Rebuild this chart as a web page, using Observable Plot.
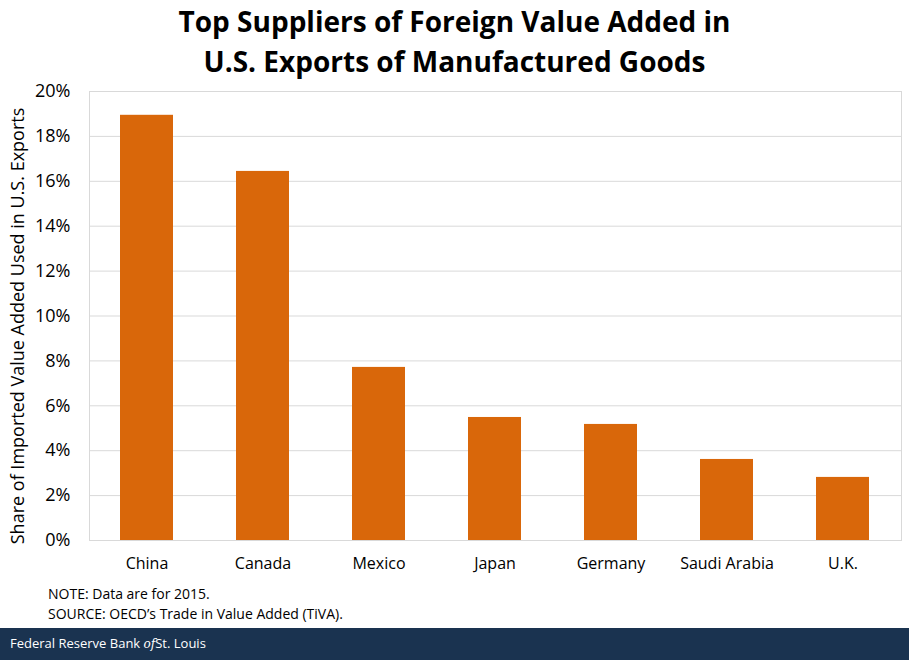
<!DOCTYPE html>
<html>
<head>
<meta charset="utf-8">
<script src="https://cdn.jsdelivr.net/npm/d3@7"></script>
<script src="https://cdn.jsdelivr.net/npm/@observablehq/plot@0.6"></script>
<style>
  html, body { margin: 0; padding: 0; background: #fff; }
  #wrap { position: relative; width: 909px; height: 660px; overflow: hidden; font-family: "Open Sans", Lato, sans-serif; }
  #title { position: absolute; left: 0; top: 1px; width: 909px; text-align: center; font-weight: bold; font-size: 28px; line-height: 40px; color: #000; }
  #chart { position: absolute; left: 0; top: 0; }
  #notes { position: absolute; left: 48px; top: 584px; font-size: 14px; line-height: 20px; color: #000; }
  #footer { position: absolute; left: 0; top: 628px; width: 909px; height: 32px; background: #1a3350; color: #fff; font-size: 13px; line-height: 30px; }
  #footer span { position: absolute; left: 10px; }
</style>
</head>
<body>
<div id="wrap">
  <div id="chart"></div>
  <div id="title">Top Suppliers of Foreign Value Added in<br>U.S. Exports of Manufactured Goods</div>
  <div id="notes">NOTE: Data are for 2015.<br>SOURCE: OECD’s Trade in Value Added (TiVA).</div>
  <div id="footer"><span>Federal Reserve Bank <i style="font-family: 'DejaVu Serif', serif; font-size: 12px;">of</i>St. Louis</span></div>
</div>
<script>
const countries = ["China", "Canada", "Mexico", "Japan", "Germany", "Saudi Arabia", "U.K."];
const shares = [18.94, 16.44, 7.71, 5.48, 5.17, 3.61, 2.81];
const yTicks = [0, 2, 4, 6, 8, 10, 12, 14, 16, 18, 20];
const yTitle = "Share of Imported Value Added Used in U.S. Exports";

const data = countries.map((c, i) => ({country: c, share: shares[i]}));

const chart = Plot.plot({
  width: 909,
  height: 580,
  marginTop: 91,
  marginBottom: 40,
  marginLeft: 89,
  marginRight: 8,
  style: {fontFamily: "'Open Sans', Lato, sans-serif", fontSize: "16px", color: "#000", background: "transparent"},
  x: {domain: countries, paddingInner: 0.543, paddingOuter: 0.2715, label: null},
  y: {domain: [0, 20], label: null},
  marks: [
    Plot.gridY(yTicks, {stroke: "#d9d9d9", strokeOpacity: 1, strokeWidth: 1}),
    Plot.frame({stroke: "#d9d9d9", strokeWidth: 1}),
    Plot.barY(data, {x: "country", y: "share", fill: "#d9670a"}),
    Plot.axisY({ticks: yTicks, tickSize: 0, tickPadding: 19, tickFormat: d => d + "%", fontSize: 18, label: null}),
    Plot.axisX({tickSize: 0, tickPadding: 17, fontSize: 16, label: null}),
    Plot.text([yTitle], {frameAnchor: "left", dx: -71, dy: 10, rotate: -90, textAnchor: "middle", fontSize: 18, fill: "#000"})
  ]
});
document.getElementById("chart").appendChild(chart);
</script>
</body>
</html>
